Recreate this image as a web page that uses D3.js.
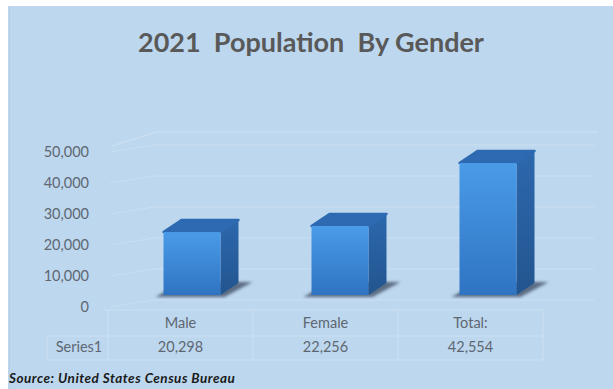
<!DOCTYPE html>
<html>
<head>
<meta charset="utf-8">
<script src="https://cdnjs.cloudflare.com/ajax/libs/d3/7.8.5/d3.min.js"></script>
<style>
  html, body { margin: 0; padding: 0; background: #ffffff; }
  svg { display: block; }
</style>
</head>
<body>
<svg id="chart" width="613" height="389"></svg>
<script>
// Chart data
const categories = ["Male", "Female", "Total:"];
const values = [20298, 22256, 42554];
const seriesName = "Series1";
const yTicks = [0, 10000, 20000, 30000, 40000, 50000];
const titleText = "2021  Population  By Gender";
const sourceText = "Source: United States Census Bureau";

const svg = d3.select("#chart");
const W = 613, H = 389;
const fmt = d3.format(",");

// Panel background
svg.append("rect").attr("x", 8).attr("y", 6).attr("width", W - 8).attr("height", H - 6)
  .attr("fill", "#bdd7ee");
svg.append("line").attr("x1", 9.5).attr("x2", 9.5).attr("y1", 6).attr("y2", H)
  .attr("stroke", "#b4cfe8").attr("stroke-width", 1);

// Gradients
const defs = svg.append("defs");
const gFront = defs.append("linearGradient").attr("id", "front").attr("x1", 0).attr("y1", 0).attr("x2", 0).attr("y2", 1);
gFront.append("stop").attr("offset", "0%").attr("stop-color", "#4a9be8");
gFront.append("stop").attr("offset", "100%").attr("stop-color", "#2f74c2");
const gSide = defs.append("linearGradient").attr("id", "side").attr("x1", 0).attr("y1", 0).attr("x2", 0).attr("y2", 1);
gSide.append("stop").attr("offset", "0%").attr("stop-color", "#2d68ad");
gSide.append("stop").attr("offset", "100%").attr("stop-color", "#22558f");
defs.append("filter").attr("id", "soft").attr("x", "-30%").attr("y", "-100%").attr("width", "160%").attr("height", "300%")
  .append("feGaussianBlur").attr("stdDeviation", 1.8);

// Scales
const y = d3.scaleLinear().domain([0, 50000]).range([307, 152]);
const xTable = d3.scaleBand().domain(categories).range([108, 543]);
const xBar = d3.scaleBand().domain(categories).range([118, 562]);
const barW = 57;
const depthX = 18, depthY = -12;
const floorShift = -12;   // bar bases sit back from the front axis edge
const wallX0 = 154, wallX1 = 594, wallShift = -7;

const gridColor = "#c9def1";

// Back wall gridlines
const grid = svg.append("g");
grid.selectAll("line.back").data(yTicks).join("line")
  .attr("class", "back")
  .attr("x1", wallX0).attr("x2", wallX1)
  .attr("y1", d => y(d) + wallShift).attr("y2", d => y(d) + wallShift)
  .attr("stroke", gridColor).attr("stroke-width", 1.5);
// Side wall gridlines
grid.selectAll("line.side").data(yTicks).join("line")
  .attr("class", "side")
  .attr("x1", 110).attr("x2", wallX0)
  .attr("y1", d => y(d)).attr("y2", d => y(d) + wallShift)
  .attr("stroke", gridColor).attr("stroke-width", 1.2);
// Wall top edge
grid.append("polyline")
  .attr("points", [[112, 146], [wallX0 + 2, 132], [wallX1 + 4, 132]].map(p => p.join(",")).join(" "))
  .attr("fill", "none").attr("stroke", gridColor).attr("stroke-width", 1.5);

// Y axis labels
svg.append("g").selectAll("text").data(yTicks).join("text")
  .attr("x", 89).attr("y", d => y(d)).attr("dy", "0.35em")
  .attr("text-anchor", "end")
  .attr("font-family", "Lato, 'Open Sans', sans-serif").attr("font-size", 14.5)
  .attr("fill", "#5e6772")
  .text(d => fmt(d));

// Bars
const bars = svg.append("g").selectAll("g").data(categories.map((c, i) => ({ c, v: values[i] }))).join("g");
const base = y(0) + floorShift;
const pts = arr => arr.map(p => p.join(",")).join(" ");

bars.append("polygon")
  .attr("points", d => {
    const x0 = xBar(d.c) + xBar.bandwidth() / 2 - barW / 2, x1 = x0 + barW;
    return pts([[x0 - 8, base + 2], [x1 + 4, base + 2], [x1 + depthX + 14, base + depthY - 1], [x0 + depthX, base + depthY - 1]]);
  })
  .attr("fill", "#3a4a60").attr("opacity", 0.75).attr("filter", "url(#soft)");

bars.append("polygon")
  .attr("points", d => {
    const x1 = xBar(d.c) + xBar.bandwidth() / 2 + barW / 2, t = y(d.v) + floorShift;
    return pts([[x1, t], [x1 + depthX, t + depthY], [x1 + depthX, base + depthY], [x1, base]]);
  })
  .attr("fill", "url(#side)");

bars.append("polygon")
  .attr("points", d => {
    const x0 = xBar(d.c) + xBar.bandwidth() / 2 - barW / 2, x1 = x0 + barW, t = y(d.v) + floorShift;
    return pts([[x0, t], [x0 + depthX, t + depthY], [x1 + depthX, t + depthY], [x1, t]]);
  })
  .attr("fill", "#2e6ab2").attr("stroke", "#2e6ab2").attr("stroke-linejoin", "round").attr("stroke-width", 2.5);

bars.append("rect")
  .attr("x", d => xBar(d.c) + xBar.bandwidth() / 2 - barW / 2)
  .attr("y", d => y(d.v) + floorShift)
  .attr("width", barW)
  .attr("height", d => base - (y(d.v) + floorShift))
  .attr("fill", "url(#front)");

// Data table
const tbl = svg.append("g").attr("stroke", "#cce0f2").attr("stroke-width", 1.2).attr("fill", "none");
const rowTop = 310, rowMid = 336, rowBot = 360;
tbl.append("line").attr("x1", 104).attr("x2", 543).attr("y1", rowTop).attr("y2", rowTop);
tbl.append("line").attr("x1", 47).attr("x2", 543).attr("y1", rowMid).attr("y2", rowMid);
tbl.append("line").attr("x1", 47).attr("x2", 543).attr("y1", rowBot).attr("y2", rowBot);
tbl.append("line").attr("x1", 47).attr("x2", 47).attr("y1", rowMid).attr("y2", rowBot);
tbl.selectAll("line.v").data(categories.concat(["end"])).join("line")
  .attr("class", "v")
  .attr("x1", d => d === "end" ? xTable.range()[1] : xTable(d))
  .attr("x2", d => d === "end" ? xTable.range()[1] : xTable(d))
  .attr("y1", rowTop).attr("y2", rowBot);

const txt = svg.append("g")
  .attr("font-family", "Lato, 'Open Sans', sans-serif").attr("font-size", 14.5)
  .attr("fill", "#5e6772").attr("text-anchor", "middle");
txt.selectAll("text.cat").data(categories).join("text")
  .attr("class", "cat")
  .attr("x", d => xTable(d) + xTable.bandwidth() / 2).attr("y", 323).attr("dy", "0.35em")
  .text(d => d);
txt.selectAll("text.val").data(values).join("text")
  .attr("class", "val")
  .attr("x", (d, i) => xTable(categories[i]) + xTable.bandwidth() / 2).attr("y", 347).attr("dy", "0.35em")
  .text(d => fmt(d));
txt.append("text").attr("x", 79).attr("y", 347).attr("dy", "0.35em").text(seriesName);

// Title
svg.append("text").attr("x", 311).attr("y", 52)
  .attr("text-anchor", "middle")
  .attr("font-family", "Lato, 'Open Sans', sans-serif").attr("font-weight", "bold").attr("font-size", 27)
  .attr("fill", "#595959")
  .style("white-space", "pre")
  .text(titleText);

// Source note
svg.append("text").attr("x", 9).attr("y", 383)
  .attr("font-family", "Lato, 'Open Sans', sans-serif").attr("font-weight", "bold").attr("font-style", "italic")
  .attr("font-size", 13.5).attr("letter-spacing", 0.5).attr("fill", "#1a1a1a")
  .text(sourceText);
</script>
</body>
</html>
